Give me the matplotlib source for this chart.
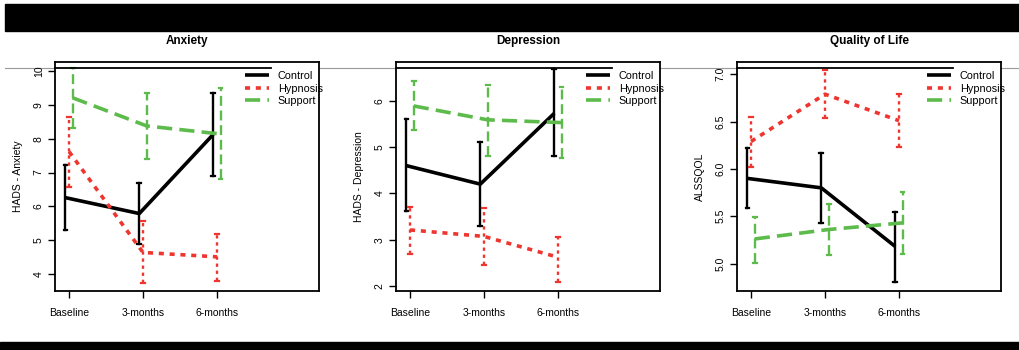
import matplotlib
matplotlib.use("Agg")
import matplotlib.pyplot as plt
from matplotlib.lines import Line2D
from matplotlib.patches import Rectangle

plt.rcParams['font.family'] = ['Liberation Sans', 'DejaVu Sans']

# time points and groups
timepoints = ['Baseline', '3-months', '6-months']
groups = ['Control', 'Hypnosis', 'Support']

# Anxiety (HADS) - means and error bar limits
anx_mean = {'Control': [6.26, 5.79, 8.13], 'Hypnosis': [7.62, 4.64, 4.51], 'Support': [9.21, 8.38, 8.14]}
anx_hi = {'Control': [7.22, 6.70, 9.34], 'Hypnosis': [8.63, 5.58, 5.18], 'Support': [10.08, 9.34, 9.49]}
anx_lo = {'Control': [5.30, 4.88, 6.91], 'Hypnosis': [6.56, 3.74, 3.79], 'Support': [8.33, 7.39, 6.81]}

# Depression (HADS)
dep_mean = {'Control': [4.60, 4.20, 5.73], 'Hypnosis': [3.21, 3.07, 2.62], 'Support': [5.89, 5.59, 5.53]}
dep_hi = {'Control': [5.60, 5.11, 6.68], 'Hypnosis': [3.70, 3.68, 3.06], 'Support': [6.44, 6.35, 6.31]}
dep_lo = {'Control': [3.61, 3.30, 4.80], 'Hypnosis': [2.69, 2.45, 2.09], 'Support': [5.37, 4.81, 4.76]}

# Quality of life (ALSSQOL)
qol_mean = {'Control': [5.90, 5.80, 5.18], 'Hypnosis': [6.29, 6.79, 6.51], 'Support': [5.26, 5.36, 5.43]}
qol_hi = {'Control': [6.22, 6.17, 5.55], 'Hypnosis': [6.55, 7.05, 6.79], 'Support': [5.49, 5.63, 5.76]}
qol_lo = {'Control': [5.59, 5.43, 4.80], 'Hypnosis': [6.02, 6.54, 6.23], 'Support': [5.01, 5.09, 5.10]}

panels = [
    ('Anxiety', 'HADS - Anxiety', anx_mean, anx_hi, anx_lo, (3.5, 10.27), [4, 5, 6, 7, 8, 9, 10], 55),
    ('Depression', 'HADS - Depression', dep_mean, dep_hi, dep_lo, (1.89, 6.84), [2, 3, 4, 5, 6], 396),
    ('Quality of Life', 'ALSSQOL', qol_mean, qol_hi, qol_lo, (4.71, 7.13), [5.0, 5.5, 6.0, 6.5, 7.0], 737),
]

# line styles per group
styles = {
    'Control': dict(color='black', linestyle='-', offset=-0.05),
    'Hypnosis': dict(color='#EE3630', linestyle=(0, (1.4, 1.6)), offset=0.0),
    'Support': dict(color='#5DBB4B', linestyle=(0, (4.2, 2.0)), offset=0.05),
}

W, H = 1019, 350
fig = plt.figure(figsize=(W / 100, H / 100), dpi=100)

# black bars at top and bottom, thin grey rule across
fig.add_artist(Rectangle((5 / W, 1 - 31 / H), 1, 27 / H, transform=fig.transFigure, color='black', zorder=-5))
fig.add_artist(Rectangle((0, 0), 1, 8 / H, transform=fig.transFigure, color='black', zorder=-5))
fig.add_artist(Line2D([5 / W, 1], [1 - 68 / H] * 2, transform=fig.transFigure, color='#999999', lw=0.8, zorder=-5))

x = [1, 2, 3]
for title, ylabel, mean, hi, lo, ylim, yticks, left in panels:
    ax = fig.add_axes([left / W, 59 / H, 264 / W, 229 / H])
    for g in groups:
        st = styles[g]
        xs = [v + st['offset'] for v in x]
        ax.plot(xs, mean[g], color=st['color'], linestyle=st['linestyle'], lw=2.6, label=g,
                solid_capstyle='butt', dash_capstyle='butt')
        for xi, h, l in zip(xs, hi[g], lo[g]):
            ax.plot([xi, xi], [l, h], color=st['color'], linestyle=st['linestyle'], lw=1.7)
            ax.plot([xi - 0.025, xi + 0.025], [h, h], color=st['color'], lw=1.6)
            ax.plot([xi - 0.025, xi + 0.025], [l, l], color=st['color'], lw=1.6)

    ax.set_xlim(0.81, 4.38)
    ax.set_ylim(*ylim)
    ax.set_xticks(x)
    ax.set_xticklabels(timepoints, fontsize=7.5)
    ax.set_yticks(yticks)
    if title == 'Quality of Life':
        ax.set_yticklabels(['%.1f' % v for v in yticks], fontsize=7.5, rotation=90, va='center')
    else:
        ax.set_yticklabels([str(v) for v in yticks], fontsize=7.5, rotation=90, va='center')
    ax.tick_params(direction='out', length=5, width=1, pad=3)
    ax.tick_params(axis='x', pad=7)
    for s in ax.spines.values():
        s.set_linewidth(1.3)
    ax.set_ylabel(ylabel, fontsize=7.5, labelpad=8)
    ax.set_title(title, fontsize=8.5, fontweight='bold', pad=13)

    # dark rule near the top of each panel
    ax.plot([0, 0.82], [0.975, 0.975], transform=ax.transAxes, color='black', lw=1.3, clip_on=False)

    ax.legend(loc='upper left', bbox_to_anchor=(0.7, 0.985), frameon=False, fontsize=7.8,
              handlelength=2.2, handletextpad=0.8, labelspacing=0.25, borderpad=0)

fig.savefig('out.png', dpi=100)
